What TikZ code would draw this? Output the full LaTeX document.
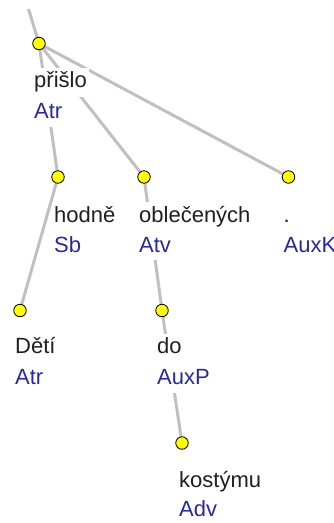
\documentclass[tikz,border=0pt]{standalone}
\usepackage{fontspec}
\setmainfont{Liberation Sans}
\usetikzlibrary{positioning}
\pgfdeclarelayer{background}
\pgfsetlayers{background,main}
\definecolor{edgegray}{RGB}{192,192,192}
\definecolor{afunblue}{RGB}{40,40,160}
\definecolor{nodeyellow}{RGB}{255,255,0}
\tikzset{tnode/.style = {circle, draw, fill = nodeyellow, line width = 0.8pt,
                         minimum size = 12.5pt, inner sep = 0pt},
         word/.style = {anchor = base west, fill = white, inner sep = 2pt,
                        text height = 18pt, text depth = 7pt, text = black!88,
                        font = \fontsize{22}{26}\selectfont},
         afun/.style = {word, text = afunblue, text height = 22pt, text depth = 6pt},
         dep/.style = {draw = edgegray, line width = 3pt}}

\begin{document}
\begin{tikzpicture}[x = 1pt, y = -1pt]
        \useasboundingbox (0,0) rectangle (333,523);
        \coordinate (top) at (28.5,9);
        \node[tnode] (pr) at (39,43.5)  {};
        \node[tnode] (ho) at (58,177)   {};
        \node[tnode] (ob) at (144,177)  {};
        \node[tnode] (tc) at (288.5,177) {};
        \node[tnode] (de) at (20,310.5) {};
        \node[tnode] (do) at (162,310.5) {};
        \node[tnode] (ko) at (182,443)  {};

        \node[word] (prw) at ([shift={(-7,44)}]pr) {přišlo};
        \node[afun] (pra) at ([shift={(-7,75)}]pr) {Atr};
        \node[word] (how) at ([shift={(-6,45)}]ho) {hodně};
        \node[afun] (hoa) at ([shift={(-6,75)}]ho) {Sb};
        \node[word] (obw) at ([shift={(-7,45)}]ob) {oblečených};
        \node[afun] (oba) at ([shift={(-7,75)}]ob) {Atv};
        \node[word] (tcw) at ([shift={(-7,45)}]tc) {.};
        \node[afun] (tca) at ([shift={(-7,75)}]tc) {AuxK};
        \node[word] (dew) at ([shift={(-7,43)}]de) {Dětí};
        \node[afun] (dea) at ([shift={(-7,74)}]de) {Atr};
        \node[word] (dow) at ([shift={(-7,43)}]do) {do};
        \node[afun] (doa) at ([shift={(-7,74)}]do) {AuxP};
        \node[word] (kow) at ([shift={(-5,44)}]ko) {kostýmu};
        \node[afun] (koa) at ([shift={(-5,73)}]ko) {Adv};

        \begin{pgfonlayer}{background}
        \path[dep] (top) -- (pr.center);
        \path[dep] (pr.center) -- (ho.center);
        \path[dep] (pr.center) -- (ob.center);
        \path[dep] (pr.center) -- (tc.center);
        \path[dep] (ho.center) -- (de.center);
        \path[dep] (ob.center) -- (do.center);
        \path[dep] (do.center) -- (ko.center);
        \end{pgfonlayer}
    \end{tikzpicture}
\end{document}
